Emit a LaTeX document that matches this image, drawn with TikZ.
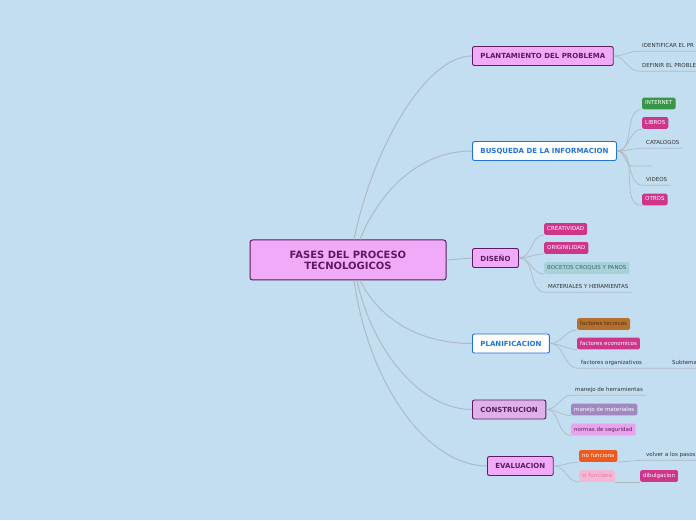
\documentclass[tikz,border=0pt]{standalone}
\usepackage{fontspec}
\setmainfont{DejaVu Sans}
\definecolor{sky}{RGB}{194,222,240}
\definecolor{plum}{RGB}{92,27,94}
\definecolor{orchid}{RGB}{240,170,248}
\definecolor{lilac}{RGB}{222,178,232}
\definecolor{azure}{RGB}{31,116,214}
\definecolor{linegray}{RGB}{176,186,194}
\definecolor{ink}{RGB}{51,51,51}
\definecolor{leafgreen}{RGB}{54,150,70}
\definecolor{leafpink}{RGB}{208,53,140}
\definecolor{leafteal}{RGB}{166,210,218}
\definecolor{tealtext}{RGB}{60,100,112}
\definecolor{leafbrown}{RGB}{181,112,46}
\definecolor{browntext}{RGB}{74,42,16}
\definecolor{leafmauve}{RGB}{160,136,192}
\definecolor{leaflilac}{RGB}{233,162,236}
\definecolor{lilactext}{RGB}{90,32,96}
\definecolor{leaforange}{RGB}{238,90,30}
\definecolor{leafblush}{RGB}{245,184,212}
\definecolor{blushtext}{RGB}{224,122,170}
\tikzset{
  rootbox/.style={draw=plum,fill=orchid,text=plum,line width=1pt,rounded corners=2.5pt,
    font=\fontsize{10}{11}\selectfont\bfseries,align=center,minimum width=196pt,minimum height=40pt},
  topic/.style={draw=plum,fill=orchid,text=plum,line width=0.9pt,rounded corners=2pt,
    font=\fontsize{7}{8}\selectfont\bfseries,inner xsep=8pt,minimum height=19pt,anchor=west},
  bluetopic/.style={topic,draw=azure,fill=white,text=azure},
  leafbox/.style={rounded corners=1.5pt,text=white,font=\fontsize{5.5}{6}\selectfont,
    inner xsep=3pt,minimum height=11pt,text height=4pt,text depth=1pt,anchor=west},
  leaftxt/.style={text=ink,font=\fontsize{5.5}{6}\selectfont,inner xsep=3pt,inner ysep=2.5pt,
    text height=4pt,text depth=1pt,anchor=west},
  branch/.style={draw=linegray,line width=1pt},
  twig/.style={draw=linegray,line width=0.7pt}
}
\begin{document}
\begin{tikzpicture}[x=1pt,y=1pt]
  \useasboundingbox (0,0) rectangle (696,520);
  \fill[sky] (0,0) rectangle (696,520);
  \clip (0,0) rectangle (696,520);

  % main topics
  \node[rootbox] (root) at (348,260) {FASES DEL PROCESO\\TECNOLOGICOS};
  \node[topic] (plant) at (472,464) {PLANTAMIENTO DEL PROBLEMA};
  \node[bluetopic] (busq) at (472,369) {BUSQUEDA DE LA INFORMACION};
  \node[topic] (diseno) at (472,262) {DISEÑO};
  \node[bluetopic] (planif) at (472,176.5) {PLANIFICACION};
  \node[topic,fill=lilac] (constr) at (472,110.5) {CONSTRUCION};
  \node[topic] (eval) at (487,54) {EVALUACION};

  % subtopics
  \node[leaftxt] (ident) at (639,474) {IDENTIFICAR EL PR};
  \node[leaftxt] (defin) at (639,454) {DEFINIR EL PROBLE};
  \node[leafbox,fill=leafgreen] (internet) at (642,416.5) {INTERNET};
  \node[leafbox,fill=leafpink] (libros) at (642,397) {LIBROS};
  \node[leaftxt] (catal) at (643,377) {CATALOGOS};
  \coordinate (blank) at (633,354);
  \coordinate (blankend) at (652,354);
  \node[leaftxt] (videos) at (643,340) {VIDEOS};
  \node[leafbox,fill=leafpink] (otros) at (642,320.5) {OTROS};
  \node[leafbox,fill=leafpink] (creat) at (544,291) {CREATIVIDAD};
  \node[leafbox,fill=leafpink] (origin) at (544,272) {ORIGINILIDAD};
  \node[leafbox,fill=leafteal,text=tealtext] (bocetos) at (544,252) {BOCETOS CROQUIS Y PANOS};
  \node[leaftxt] (mater) at (545,233) {MATERIALES Y HERAMIENTAS};
  \node[leafbox,fill=leafbrown,text=browntext] (tecn) at (577,196) {factores tecnicos};
  \node[leafbox,fill=leafpink] (econ) at (577,176.5) {factores economicos};
  \node[leaftxt] (organ) at (578,157) {factores organizativos};
  \node[leaftxt] (subt) at (669,157) {Subtema};
  \node[leaftxt] (herram) at (572,130) {manejo de herramientas};
  \node[leafbox,fill=leafmauve] (materi) at (571,110.5) {manejo de materiales};
  \node[leafbox,fill=leaflilac,text=lilactext] (normas) at (571,90.5) {normas de seguridad};
  \node[leafbox,fill=leaforange] (nofun) at (579,64) {no funciona};
  \node[leaftxt] (volver) at (643,65) {volver a los pasos};
  \node[leafbox,fill=leafblush,text=blushtext] (sifun) at (579,44) {si funciona};
  \node[leafbox,fill=leafpink] (dibul) at (640,44) {dibulgacion};

  % root to topics
  \draw[branch] ([xshift=6pt]root.north) .. controls (372,370) and (425,464) .. (plant.west);
  \draw[branch] ([xshift=12pt]root.north) .. controls (380,330) and (420,369) .. (busq.west);
  \draw[branch] (root.east) -- (diseno.west);
  \draw[branch] ([xshift=12pt]root.south) .. controls (380,200) and (420,176.5) .. (planif.west);
  \draw[branch] ([xshift=9pt]root.south) .. controls (372,170) and (420,110.5) .. (constr.west);
  \draw[branch] ([xshift=6pt]root.south) .. controls (370,130) and (430,54) .. (eval.west);

  % topics to subtopics
  \draw[twig] (plant.east) to[out=0,in=180] (ident.south west) -- ++(60,0);
  \draw[twig] (plant.east) to[out=0,in=180] (defin.south west) -- ++(60,0);
  \draw[twig] (busq.east) to[out=0,in=180] (internet.south west);
  \draw[twig] (busq.east) to[out=0,in=180] (libros.south west);
  \draw[twig] (busq.east) to[out=0,in=180] (catal.south west) -- (catal.south east);
  \draw[twig] (busq.east) to[out=0,in=180] (blank) -- (blankend);
  \draw[twig] (busq.east) to[out=0,in=180] (videos.south west) -- (videos.south east);
  \draw[twig] (busq.east) to[out=0,in=180] (otros.south west);
  \draw[twig] (diseno.east) to[out=0,in=180] (creat.south west);
  \draw[twig] (diseno.east) to[out=0,in=180] (origin.south west);
  \draw[twig] (diseno.east) to[out=0,in=180] (bocetos.south west);
  \draw[twig] (diseno.east) to[out=0,in=180] (mater.south west) -- (mater.south east);
  \draw[twig] (planif.east) to[out=0,in=180] (tecn.south west);
  \draw[twig] (planif.east) to[out=0,in=180] (econ.south west);
  \draw[twig] (planif.east) to[out=0,in=180] (organ.south west) -- (organ.south east)
    -- (subt.south west) -- (subt.south east);
  \draw[twig] (constr.east) to[out=0,in=180] (herram.south west) -- (herram.south east);
  \draw[twig] (constr.east) to[out=0,in=180] (materi.south west);
  \draw[twig] (constr.east) to[out=0,in=180] (normas.south west);
  \draw[twig] (eval.east) to[out=0,in=180] (nofun.south west);
  \draw[twig] (eval.east) to[out=0,in=180] (sifun.south west);
  \draw[twig] (nofun.south east) -- (volver.south west) -- (volver.south east);
  \draw[twig] (sifun.south east) -- (dibul.south west);
\end{tikzpicture}
\end{document}
